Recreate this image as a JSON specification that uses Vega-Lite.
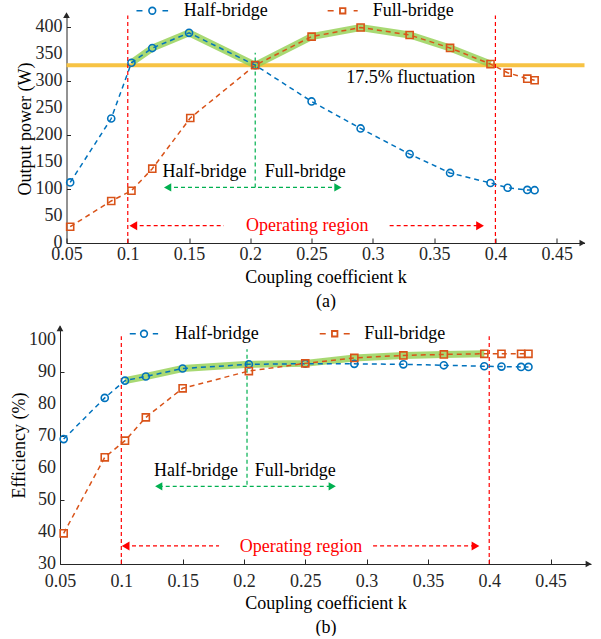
{
  "$schema": "https://vega.github.io/schema/vega-lite/v6.json",
  "padding": {"left": 10, "top": 1, "right": 0, "bottom": 0},
  "spacing": 83,
  "bounds": "flush",
  "center": true,
  "resolve": {"scale": {"color": "independent", "shape": "independent"}},
  "config": {
    "font": "Liberation Serif",
    "view": {"stroke": null},
    "axis": {
      "labelFont": "Liberation Serif", "labelFontSize": 18, "labelColor": "#262626",
      "titleFont": "Liberation Serif", "titleFontSize": 18, "titleFontWeight": "normal", "titleColor": "#000000",
      "grid": false, "domainColor": "#262626", "tickColor": "#262626", "domainWidth": 1, "labelOverlap": false
    },
    "text": {"font": "Liberation Serif", "fontSize": 18}
  },
  "datasets": {
    "a": [
      {"k": 0.053, "P": 112.4, "s": "Half-bridge"}, {"k": 0.0865, "P": 231, "s": "Half-bridge"},
      {"k": 0.103, "P": 334.5, "s": "Half-bridge"}, {"k": 0.12, "P": 361.8, "s": "Half-bridge"},
      {"k": 0.15, "P": 390, "s": "Half-bridge"}, {"k": 0.204, "P": 330, "s": "Half-bridge"},
      {"k": 0.25, "P": 262.7, "s": "Half-bridge"}, {"k": 0.29, "P": 212.6, "s": "Half-bridge"},
      {"k": 0.33, "P": 165, "s": "Half-bridge"}, {"k": 0.363, "P": 130, "s": "Half-bridge"},
      {"k": 0.396, "P": 111.3, "s": "Half-bridge"}, {"k": 0.41, "P": 102.6, "s": "Half-bridge"},
      {"k": 0.426, "P": 98.5, "s": "Half-bridge"}, {"k": 0.432, "P": 98, "s": "Half-bridge"},
      {"k": 0.053, "P": 30.2, "s": "Full-bridge"}, {"k": 0.0865, "P": 78, "s": "Full-bridge"},
      {"k": 0.103, "P": 97, "s": "Full-bridge"}, {"k": 0.12, "P": 138, "s": "Full-bridge"},
      {"k": 0.151, "P": 232, "s": "Full-bridge"}, {"k": 0.204, "P": 330, "s": "Full-bridge"},
      {"k": 0.25, "P": 383, "s": "Full-bridge"}, {"k": 0.29, "P": 400, "s": "Full-bridge"},
      {"k": 0.33, "P": 386, "s": "Full-bridge"}, {"k": 0.363, "P": 362, "s": "Full-bridge"},
      {"k": 0.396, "P": 332, "s": "Full-bridge"}, {"k": 0.41, "P": 316, "s": "Full-bridge"},
      {"k": 0.426, "P": 305, "s": "Full-bridge"}, {"k": 0.432, "P": 302, "s": "Full-bridge"}
    ],
    "b": [
      {"k": 0.053, "E": 69.1, "s": "Half-bridge"}, {"k": 0.0865, "E": 82.0, "s": "Half-bridge"},
      {"k": 0.103, "E": 87.4, "s": "Half-bridge"}, {"k": 0.12, "E": 88.7, "s": "Half-bridge"},
      {"k": 0.15, "E": 91.2, "s": "Half-bridge"}, {"k": 0.204, "E": 92.5, "s": "Half-bridge"},
      {"k": 0.25, "E": 92.7, "s": "Half-bridge"}, {"k": 0.29, "E": 92.65, "s": "Half-bridge"},
      {"k": 0.33, "E": 92.5, "s": "Half-bridge"}, {"k": 0.363, "E": 92.2, "s": "Half-bridge"},
      {"k": 0.396, "E": 91.9, "s": "Half-bridge"}, {"k": 0.41, "E": 91.8, "s": "Half-bridge"},
      {"k": 0.426, "E": 91.7, "s": "Half-bridge"}, {"k": 0.432, "E": 91.7, "s": "Half-bridge"},
      {"k": 0.053, "E": 39.6, "s": "Full-bridge"}, {"k": 0.0865, "E": 63.4, "s": "Full-bridge"},
      {"k": 0.103, "E": 68.6, "s": "Full-bridge"}, {"k": 0.12, "E": 75.9, "s": "Full-bridge"},
      {"k": 0.15, "E": 85.0, "s": "Full-bridge"}, {"k": 0.204, "E": 90.4, "s": "Full-bridge"},
      {"k": 0.25, "E": 92.8, "s": "Full-bridge"}, {"k": 0.29, "E": 94.5, "s": "Full-bridge"},
      {"k": 0.33, "E": 95.3, "s": "Full-bridge"}, {"k": 0.363, "E": 95.6, "s": "Full-bridge"},
      {"k": 0.396, "E": 95.8, "s": "Full-bridge"}, {"k": 0.41, "E": 95.8, "s": "Full-bridge"},
      {"k": 0.426, "E": 95.8, "s": "Full-bridge"}, {"k": 0.432, "E": 95.8, "s": "Full-bridge"}
    ],
    "op_a": [
      {"k": 0.103, "P": 334.5}, {"k": 0.12, "P": 361.8}, {"k": 0.15, "P": 390}, {"k": 0.204, "P": 330},
      {"k": 0.25, "P": 383}, {"k": 0.29, "P": 400}, {"k": 0.33, "P": 386}, {"k": 0.363, "P": 362}, {"k": 0.396, "P": 332}
    ],
    "op_b": [
      {"k": 0.103, "E": 87.4}, {"k": 0.12, "E": 88.7}, {"k": 0.15, "E": 91.2}, {"k": 0.204, "E": 92.5},
      {"k": 0.25, "E": 92.8}, {"k": 0.29, "E": 94.5}, {"k": 0.33, "E": 95.3}, {"k": 0.363, "E": 95.6}, {"k": 0.396, "E": 95.8}
    ],
    "bounds": [{"k": 0.1}, {"k": 0.4}],
    "ticks_a": [{"v": 0}, {"v": 50}, {"v": 100}, {"v": 150}, {"v": 200}, {"v": 250}, {"v": 300}, {"v": 350}, {"v": 400}],
    "ticks_b": [{"v": 30}, {"v": 40}, {"v": 50}, {"v": 60}, {"v": 70}, {"v": 80}, {"v": 90}, {"v": 100}]
  },
  "vconcat": [
    {
      "width": 518,
      "height": 229,
      "layer": [
        {"data": {"values": [{}]}, "mark": {"type": "rule", "color": "#f7c344", "strokeWidth": 4},
         "encoding": {"y": {"datum": 330, "type": "quantitative"}}},
        {"data": {"name": "op_a"}, "mark": {"type": "line", "color": "#92d050", "strokeWidth": 7, "opacity": 0.8},
         "encoding": {
           "x": {"field": "k", "type": "quantitative",
                 "scale": {"domain": [0.05, 0.4727], "nice": false, "zero": false},
                 "axis": {"values": [0.05, 0.1, 0.15, 0.2, 0.25, 0.3, 0.35, 0.4, 0.45], "format": ".2~f",
                          "title": ["Coupling coefficient k", "(a)"], "tickSize": -5, "labelPadding": 7,
                          "labelFlush": false, "labelOverlap": false, "titlePadding": 5, "titleLineHeight": 24,
                          "encode": {"labels": {"update": {"dx": {"signal": "datum.value === 0.05 ? 9 : 0"}}}}}},
           "y": {"field": "P", "type": "quantitative",
                 "scale": {"domain": [0, 425], "nice": false, "zero": false},
                 "axis": {"values": [0, 50, 100, 150, 200, 250, 300, 350, 400], "title": "Output power (W)",
                          "labels": false, "tickSize": -4, "titlePadding": 32}}}},
        {"data": {"name": "ticks_a"}, "mark": {"type": "text", "align": "right", "baseline": "middle", "dx": -4, "color": "#262626"},
         "encoding": {"x": {"datum": 0.05, "type": "quantitative"}, "y": {"field": "v", "type": "quantitative"}, "text": {"field": "v", "type": "quantitative"}}},
        {"data": {"name": "bounds"}, "mark": {"type": "rule", "color": "#ff0000", "strokeDash": [4, 3], "strokeWidth": 1.2},
         "encoding": {"x": {"field": "k", "type": "quantitative"}, "y": {"datum": 0, "type": "quantitative"}, "y2": {"datum": 422}}},
        {"data": {"values": [{}]}, "mark": {"type": "rule", "color": "#00b050", "strokeDash": [4, 3], "strokeWidth": 1.2},
         "encoding": {"x": {"datum": 0.204, "type": "quantitative"}, "y": {"datum": 103, "type": "quantitative"}, "y2": {"datum": 353}}},
        {"data": {"values": [{}]}, "mark": {"type": "rule", "color": "#00b050", "strokeDash": [4, 3], "strokeWidth": 1.4},
         "encoding": {"x": {"datum": 0.132, "type": "quantitative"}, "x2": {"datum": 0.272}, "y": {"datum": 103.2, "type": "quantitative"}}},
        {"data": {"values": [{}]}, "mark": {"type": "point", "shape": "triangle-left", "filled": true, "color": "#00b050", "size": 70, "opacity": 1},
         "encoding": {"x": {"datum": 0.1325, "type": "quantitative"}, "y": {"datum": 103.2, "type": "quantitative"}}},
        {"data": {"values": [{}]}, "mark": {"type": "point", "shape": "triangle-right", "filled": true, "color": "#00b050", "size": 70, "opacity": 1},
         "encoding": {"x": {"datum": 0.2715, "type": "quantitative"}, "y": {"datum": 103.2, "type": "quantitative"}}},
        {"data": {"values": [{}]}, "mark": {"type": "text", "text": "Half-bridge", "align": "right", "baseline": "middle", "color": "#000000"},
         "encoding": {"x": {"datum": 0.1968, "type": "quantitative"}, "y": {"datum": 131, "type": "quantitative"}}},
        {"data": {"values": [{}]}, "mark": {"type": "text", "text": "Full-bridge", "align": "left", "baseline": "middle", "color": "#000000"},
         "encoding": {"x": {"datum": 0.2117, "type": "quantitative"}, "y": {"datum": 131, "type": "quantitative"}}},
        {"data": {"values": [{}]}, "mark": {"type": "rule", "color": "#ff0000", "strokeDash": [4, 3], "strokeWidth": 1.2},
         "encoding": {"x": {"datum": 0.104, "type": "quantitative"}, "x2": {"datum": 0.1785}, "y": {"datum": 32.1, "type": "quantitative"}}},
        {"data": {"values": [{}]}, "mark": {"type": "rule", "color": "#ff0000", "strokeDash": [4, 3], "strokeWidth": 1.2},
         "encoding": {"x": {"datum": 0.3137, "type": "quantitative"}, "x2": {"datum": 0.3875}, "y": {"datum": 32.1, "type": "quantitative"}}},
        {"data": {"values": [{}]}, "mark": {"type": "point", "shape": "triangle-left", "filled": true, "color": "#ff0000", "size": 80, "opacity": 1},
         "encoding": {"x": {"datum": 0.1045, "type": "quantitative"}, "y": {"datum": 32.1, "type": "quantitative"}}},
        {"data": {"values": [{}]}, "mark": {"type": "point", "shape": "triangle-right", "filled": true, "color": "#ff0000", "size": 80, "opacity": 1},
         "encoding": {"x": {"datum": 0.3875, "type": "quantitative"}, "y": {"datum": 32.1, "type": "quantitative"}}},
        {"data": {"values": [{}]}, "mark": {"type": "text", "text": "Operating region", "align": "center", "baseline": "middle", "color": "#ff0000"},
         "encoding": {"x": {"datum": 0.2464, "type": "quantitative"}, "y": {"datum": 31, "type": "quantitative"}}},
        {"data": {"values": [{}]}, "mark": {"type": "text", "text": "17.5% fluctuation", "align": "center", "baseline": "middle", "color": "#000000"},
         "encoding": {"x": {"datum": 0.331, "type": "quantitative"}, "y": {"datum": 305.4, "type": "quantitative"}}},
        {"data": {"name": "a"}, "mark": {"type": "line", "strokeDash": [5, 4], "strokeWidth": 1.5},
         "encoding": {
           "x": {"field": "k", "type": "quantitative"},
           "y": {"field": "P", "type": "quantitative"},
           "color": {"field": "s", "type": "nominal",
                     "scale": {"domain": ["Half-bridge", "Full-bridge"], "range": ["#0072BD", "#D95319"]},
                     "legend": null}
         }},
        {"data": {"name": "a"}, "mark": {"type": "point", "filled": false, "strokeWidth": 1.6, "opacity": 1, "size": 50},
         "encoding": {
           "x": {"field": "k", "type": "quantitative"},
           "y": {"field": "P", "type": "quantitative"},
           "color": {"field": "s", "type": "nominal", "legend": null},
           "shape": {"field": "s", "type": "nominal", "scale": {"domain": ["Half-bridge", "Full-bridge"], "range": ["circle", "square"]}, "legend": null}
         }},
        {"data": {"values": [{}]}, "mark": {"type": "rule", "color": "#0072BD", "strokeDash": [6, 20], "strokeWidth": 1.5},
         "encoding": {"x": {"datum": 0.1071, "type": "quantitative"}, "x2": {"datum": 0.1329}, "y": {"datum": 431, "type": "quantitative"}}},
        {"data": {"values": [{}]}, "mark": {"type": "point", "shape": "circle", "filled": false, "color": "#0072BD", "strokeWidth": 1.6, "size": 45, "opacity": 1},
         "encoding": {"x": {"datum": 0.12, "type": "quantitative"}, "y": {"datum": 431, "type": "quantitative"}}},
        {"data": {"values": [{}]}, "mark": {"type": "text", "text": "Half-bridge", "align": "left", "baseline": "middle", "color": "#000000"},
         "encoding": {"x": {"datum": 0.1457, "type": "quantitative"}, "y": {"datum": 431, "type": "quantitative"}}},
        {"data": {"values": [{}]}, "mark": {"type": "rule", "color": "#D95319", "strokeDash": [6, 20], "strokeWidth": 1.5},
         "encoding": {"x": {"datum": 0.2631, "type": "quantitative"}, "x2": {"datum": 0.2876}, "y": {"datum": 431, "type": "quantitative"}}},
        {"data": {"values": [{}]}, "mark": {"type": "point", "shape": "square", "filled": false, "color": "#D95319", "strokeWidth": 1.8, "size": 30, "opacity": 1},
         "encoding": {"x": {"datum": 0.2754, "type": "quantitative"}, "y": {"datum": 431, "type": "quantitative"}}},
        {"data": {"values": [{}]}, "mark": {"type": "text", "text": "Full-bridge", "align": "left", "baseline": "middle", "color": "#000000"},
         "encoding": {"x": {"datum": 0.2999, "type": "quantitative"}, "y": {"datum": 431, "type": "quantitative"}}},
        {"data": {"values": [{}]}, "mark": {"type": "point", "shape": "triangle-up", "filled": true, "color": "#262626", "size": 45, "opacity": 1},
         "encoding": {"x": {"datum": 0.05, "type": "quantitative"}, "y": {"datum": 423, "type": "quantitative"}}},
        {"data": {"values": [{}]}, "mark": {"type": "point", "shape": "triangle-right", "filled": true, "color": "#262626", "size": 45, "opacity": 1},
         "encoding": {"x": {"datum": 0.471, "type": "quantitative"}, "y": {"datum": 0, "type": "quantitative"}}}
      ]
    },
    {
      "width": 531,
      "height": 238,
      "layer": [
        {"data": {"name": "op_b"}, "mark": {"type": "line", "color": "#92d050", "strokeWidth": 7, "opacity": 0.8},
         "encoding": {
           "x": {"field": "k", "type": "quantitative",
                 "scale": {"domain": [0.05, 0.483], "nice": false, "zero": false},
                 "axis": {"values": [0.05, 0.1, 0.15, 0.2, 0.25, 0.3, 0.35, 0.4, 0.45], "format": ".2~f",
                          "title": ["Coupling coefficient k", "(b)"], "tickSize": -5, "labelPadding": 13,
                          "labelFlush": false, "labelOverlap": false, "titlePadding": 4, "titleLineHeight": 24,
                          "encode": {"labels": {"update": {"dx": {"signal": "datum.value === 0.05 ? 5 : 0"}}}}}},
           "y": {"field": "E", "type": "quantitative",
                 "scale": {"domain": [30, 104.5], "nice": false, "zero": false},
                 "axis": {"values": [30, 40, 50, 60, 70, 80, 90, 100], "title": "Efficiency (%)",
                          "labels": false, "tickSize": -4, "titlePadding": 31}}}},
        {"data": {"name": "ticks_b"}, "mark": {"type": "text", "align": "right", "baseline": "middle", "dx": -4, "color": "#262626"},
         "encoding": {"x": {"datum": 0.05, "type": "quantitative"}, "y": {"field": "v", "type": "quantitative"}, "text": {"field": "v", "type": "quantitative"}}},
        {"data": {"name": "bounds"}, "mark": {"type": "rule", "color": "#ff0000", "strokeDash": [4, 3], "strokeWidth": 1.2},
         "encoding": {"x": {"field": "k", "type": "quantitative"}, "y": {"datum": 30, "type": "quantitative"}, "y2": {"datum": 101.3}}},
        {"data": {"values": [{}]}, "mark": {"type": "rule", "color": "#00b050", "strokeDash": [4, 3], "strokeWidth": 1.2},
         "encoding": {"x": {"datum": 0.2025, "type": "quantitative"}, "y": {"datum": 54.8, "type": "quantitative"}, "y2": {"datum": 97.2}}},
        {"data": {"values": [{}]}, "mark": {"type": "rule", "color": "#00b050", "strokeDash": [4, 3], "strokeWidth": 1.4},
         "encoding": {"x": {"datum": 0.1305, "type": "quantitative"}, "x2": {"datum": 0.272}, "y": {"datum": 54.3, "type": "quantitative"}}},
        {"data": {"values": [{}]}, "mark": {"type": "point", "shape": "triangle-left", "filled": true, "color": "#00b050", "size": 70, "opacity": 1},
         "encoding": {"x": {"datum": 0.1305, "type": "quantitative"}, "y": {"datum": 54.3, "type": "quantitative"}}},
        {"data": {"values": [{}]}, "mark": {"type": "point", "shape": "triangle-right", "filled": true, "color": "#00b050", "size": 70, "opacity": 1},
         "encoding": {"x": {"datum": 0.272, "type": "quantitative"}, "y": {"datum": 54.3, "type": "quantitative"}}},
        {"data": {"values": [{}]}, "mark": {"type": "text", "text": "Half-bridge", "align": "right", "baseline": "middle", "color": "#000000"},
         "encoding": {"x": {"datum": 0.1952, "type": "quantitative"}, "y": {"datum": 59, "type": "quantitative"}}},
        {"data": {"values": [{}]}, "mark": {"type": "text", "text": "Full-bridge", "align": "left", "baseline": "middle", "color": "#000000"},
         "encoding": {"x": {"datum": 0.2088, "type": "quantitative"}, "y": {"datum": 59, "type": "quantitative"}}},
        {"data": {"values": [{}]}, "mark": {"type": "rule", "color": "#ff0000", "strokeDash": [4, 3], "strokeWidth": 1.2},
         "encoding": {"x": {"datum": 0.103, "type": "quantitative"}, "x2": {"datum": 0.1797}, "y": {"datum": 35.65, "type": "quantitative"}}},
        {"data": {"values": [{}]}, "mark": {"type": "rule", "color": "#ff0000", "strokeDash": [4, 3], "strokeWidth": 1.2},
         "encoding": {"x": {"datum": 0.3053, "type": "quantitative"}, "x2": {"datum": 0.389}, "y": {"datum": 35.65, "type": "quantitative"}}},
        {"data": {"values": [{}]}, "mark": {"type": "point", "shape": "triangle-left", "filled": true, "color": "#ff0000", "size": 80, "opacity": 1},
         "encoding": {"x": {"datum": 0.1035, "type": "quantitative"}, "y": {"datum": 35.65, "type": "quantitative"}}},
        {"data": {"values": [{}]}, "mark": {"type": "point", "shape": "triangle-right", "filled": true, "color": "#ff0000", "size": 80, "opacity": 1},
         "encoding": {"x": {"datum": 0.3888, "type": "quantitative"}, "y": {"datum": 35.65, "type": "quantitative"}}},
        {"data": {"values": [{}]}, "mark": {"type": "text", "text": "Operating region", "align": "center", "baseline": "middle", "color": "#ff0000"},
         "encoding": {"x": {"datum": 0.2466, "type": "quantitative"}, "y": {"datum": 35.3, "type": "quantitative"}}},
        {"data": {"name": "b"}, "mark": {"type": "line", "strokeDash": [5, 4], "strokeWidth": 1.5},
         "encoding": {
           "x": {"field": "k", "type": "quantitative"},
           "y": {"field": "E", "type": "quantitative"},
           "color": {"field": "s", "type": "nominal",
                     "scale": {"domain": ["Half-bridge", "Full-bridge"], "range": ["#0072BD", "#D95319"]},
                     "legend": null}
         }},
        {"data": {"name": "b"}, "mark": {"type": "point", "filled": false, "strokeWidth": 1.6, "opacity": 1, "size": 50},
         "encoding": {
           "x": {"field": "k", "type": "quantitative"},
           "y": {"field": "E", "type": "quantitative"},
           "color": {"field": "s", "type": "nominal", "legend": null},
           "shape": {"field": "s", "type": "nominal", "scale": {"domain": ["Half-bridge", "Full-bridge"], "range": ["circle", "square"]}, "legend": null}
         }},
        {"data": {"values": [{}]}, "mark": {"type": "rule", "color": "#0072BD", "strokeDash": [6, 17], "strokeWidth": 1.5},
         "encoding": {"x": {"datum": 0.1069, "type": "quantitative"}, "x2": {"datum": 0.13}, "y": {"datum": 102.07, "type": "quantitative"}}},
        {"data": {"values": [{}]}, "mark": {"type": "point", "shape": "circle", "filled": false, "color": "#0072BD", "strokeWidth": 1.6, "size": 45, "opacity": 1},
         "encoding": {"x": {"datum": 0.1185, "type": "quantitative"}, "y": {"datum": 102.07, "type": "quantitative"}}},
        {"data": {"values": [{}]}, "mark": {"type": "text", "text": "Half-bridge", "align": "left", "baseline": "middle", "color": "#000000"},
         "encoding": {"x": {"datum": 0.1436, "type": "quantitative"}, "y": {"datum": 102.07, "type": "quantitative"}}},
        {"data": {"values": [{}]}, "mark": {"type": "rule", "color": "#D95319", "strokeDash": [6, 18], "strokeWidth": 1.5},
         "encoding": {"x": {"datum": 0.2618, "type": "quantitative"}, "x2": {"datum": 0.2863}, "y": {"datum": 102.07, "type": "quantitative"}}},
        {"data": {"values": [{}]}, "mark": {"type": "point", "shape": "square", "filled": false, "color": "#D95319", "strokeWidth": 1.8, "size": 30, "opacity": 1},
         "encoding": {"x": {"datum": 0.274, "type": "quantitative"}, "y": {"datum": 102.07, "type": "quantitative"}}},
        {"data": {"values": [{}]}, "mark": {"type": "text", "text": "Full-bridge", "align": "left", "baseline": "middle", "color": "#000000"},
         "encoding": {"x": {"datum": 0.298, "type": "quantitative"}, "y": {"datum": 102.07, "type": "quantitative"}}},
        {"data": {"values": [{}]}, "mark": {"type": "point", "shape": "triangle-up", "filled": true, "color": "#262626", "size": 45, "opacity": 1},
         "encoding": {"x": {"datum": 0.05, "type": "quantitative"}, "y": {"datum": 103.8, "type": "quantitative"}}},
        {"data": {"values": [{}]}, "mark": {"type": "point", "shape": "triangle-right", "filled": true, "color": "#262626", "size": 45, "opacity": 1},
         "encoding": {"x": {"datum": 0.481, "type": "quantitative"}, "y": {"datum": 30, "type": "quantitative"}}}
      ]
    }
  ]
}
